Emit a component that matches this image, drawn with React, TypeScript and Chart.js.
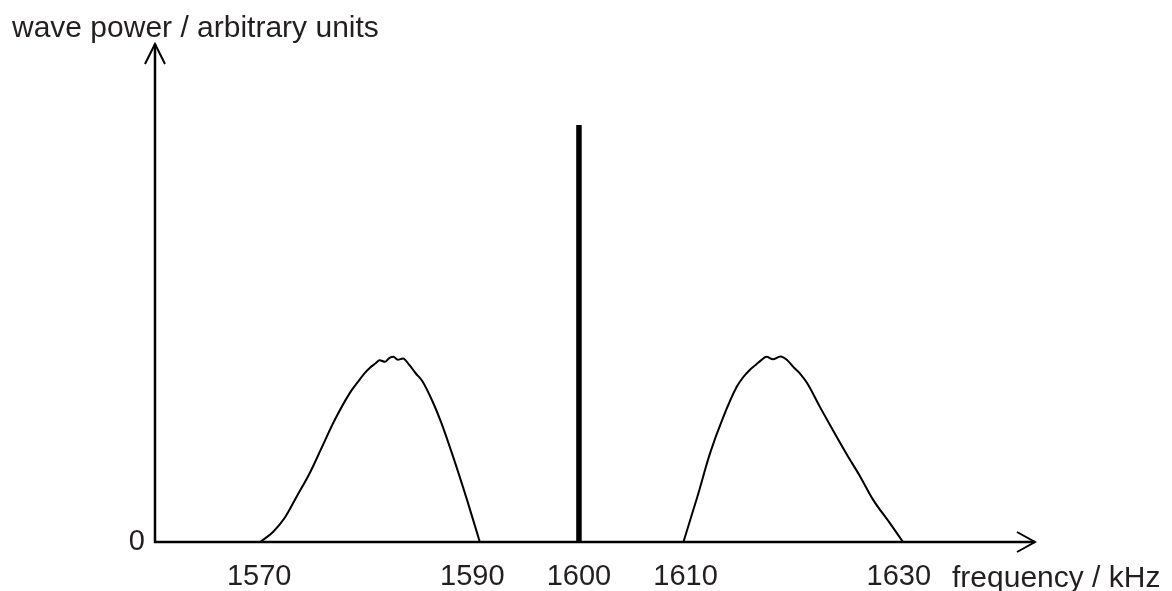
import React, { useEffect, useRef } from "react";
import { Chart, registerables } from "chart.js";

Chart.register(...registerables);

// ---- data ----
const TICK_FREQS = [1570, 1590, 1600, 1610, 1630];
const Y_TICKS = [0];

const CENTRE_FREQ = [1600, 1600];
const CENTRE_POWER = [0, 1.0];

const LEFT_FREQ = [
  1570.1, 1571.3, 1572.4, 1573.5, 1574.8, 1575.9, 1577.1, 1578.5, 1579.3, 1579.9,
  1580.4, 1580.9, 1581.3, 1581.8, 1582.2, 1582.6, 1583.0, 1583.5, 1584.1, 1584.7,
  1585.3, 1586.3, 1587.1, 1588.2, 1589.5, 1590.7,
];
const LEFT_POWER = [
  0, 0.024, 0.058, 0.108, 0.168, 0.228, 0.293, 0.357, 0.385, 0.405,
  0.418, 0.428, 0.436, 0.432, 0.441, 0.444, 0.437, 0.44, 0.424, 0.404,
  0.386, 0.335, 0.285, 0.204, 0.101, 0,
];

const RIGHT_FREQ = [
  1609.8, 1611.1, 1612.3, 1613.5, 1614.8, 1615.4, 1616.0, 1616.6, 1617.1, 1617.6,
  1618.2, 1618.9, 1619.5, 1620.1, 1620.7, 1621.4, 1622.6, 1623.8, 1625.1, 1626.4,
  1627.6, 1629.2, 1630.4,
];
const RIGHT_POWER = [
  0, 0.108, 0.213, 0.297, 0.372, 0.395, 0.412, 0.425, 0.436, 0.444,
  0.438, 0.445, 0.437, 0.42, 0.405, 0.381, 0.324, 0.269, 0.211, 0.156,
  0.101, 0.044, 0,
];

const X_MIN = 1560.23;
const X_MAX = 1642.78;
const Y_MIN = 0;
const Y_MAX = 1.194;

const X_TITLE = "frequency / kHz";
const Y_TITLE = "wave power / arbitrary units";

const FONT = '"Liberation Sans", Arial, Helvetica, sans-serif';
const TEXT = "#231f20";

const toPts = (xs: number[], ys: number[]) => xs.map((x, i) => ({ x, y: ys[i] }));

export default function App() {
  const ref = useRef<HTMLCanvasElement>(null);

  useEffect(() => {
    if (!ref.current) return;

    const axisPlugin = {
      id: "axisArrows",
      afterDraw(chart: any) {
        const { ctx, chartArea: a } = chart;
        const ys = chart.scales.y;
        const x0 = a.left;
        const y0 = ys.getPixelForValue(0);
        ctx.save();
        ctx.strokeStyle = "#000";
        ctx.lineWidth = 2.5;
        ctx.lineCap = "butt";
        ctx.beginPath();
        ctx.moveTo(x0, y0 + 1.25);
        ctx.lineTo(x0, a.top);
        ctx.moveTo(x0 - 1.25, y0);
        ctx.lineTo(a.right, y0);
        ctx.stroke();
        ctx.lineWidth = 2;
        ctx.beginPath();
        ctx.moveTo(x0 - 10, a.top + 20);
        ctx.lineTo(x0, a.top);
        ctx.lineTo(x0 + 10, a.top + 20);
        ctx.moveTo(a.right - 18, y0 - 10);
        ctx.lineTo(a.right, y0);
        ctx.lineTo(a.right - 18, y0 + 10);
        ctx.stroke();
        ctx.fillStyle = TEXT;
        ctx.font = `30px ${FONT}`;
        ctx.textBaseline = "alphabetic";
        ctx.textAlign = "left";
        ctx.fillText(Y_TITLE, 12, 37);
        ctx.fillText(X_TITLE, a.right - 83, 587);
        ctx.restore();
      },
    };

    const lineStyle = {
      borderColor: "#000",
      pointRadius: 0,
      fill: false,
    };

    const chart = new Chart(ref.current, {
      type: "line",
      data: {
        datasets: [
          {
            ...lineStyle,
            label: "carrier",
            data: toPts(CENTRE_FREQ, CENTRE_POWER),
            borderWidth: 5.5,
            borderCapStyle: "butt",
          },
          {
            ...lineStyle,
            label: "lower sideband",
            data: toPts(LEFT_FREQ, LEFT_POWER),
            borderWidth: 2,
            cubicInterpolationMode: "monotone",
          },
          {
            ...lineStyle,
            label: "upper sideband",
            data: toPts(RIGHT_FREQ, RIGHT_POWER),
            borderWidth: 2,
            cubicInterpolationMode: "monotone",
          },
        ],
      },
      options: {
        animation: false,
        responsive: false,
        devicePixelRatio: 1,
        layout: { padding: { top: 44, right: 137, left: 0, bottom: 0 } },
        plugins: {
          legend: { display: false },
          tooltip: { enabled: false },
          title: { display: false },
        },
        scales: {
          x: {
            type: "linear",
            min: X_MIN,
            max: X_MAX,
            afterBuildTicks: (s: any) => {
              s.ticks = TICK_FREQS.map((v) => ({ value: v }));
            },
            afterFit: (s: any) => {
              s.height = 49;
            },
            grid: { display: false, drawTicks: false },
            border: { display: false },
            ticks: {
              autoSkip: false,
              maxRotation: 0,
              minRotation: 0,
              padding: 18,
              color: TEXT,
              font: { family: FONT, size: 29 },
              callback: (v: any) => String(v),
            },
          },
          y: {
            type: "linear",
            min: Y_MIN,
            max: Y_MAX,
            afterBuildTicks: (s: any) => {
              s.ticks = Y_TICKS.map((v) => ({ value: v }));
            },
            afterFit: (s: any) => {
              s.width = 155;
            },
            grid: { display: false, drawTicks: false },
            border: { display: false },
            ticks: {
              padding: 10,
              color: TEXT,
              font: { family: FONT, size: 29 },
              callback: (v: any) => String(v),
            },
          },
        },
      } as any,
      plugins: [axisPlugin],
    });

    return () => chart.destroy();
  }, []);

  return (
    <div style={{ position: "absolute", left: 0, top: 0, width: 1172, height: 591, overflow: "hidden" }}>
      <canvas ref={ref} width={1172} height={591} style={{ display: "block" }} />
    </div>
  );
}
